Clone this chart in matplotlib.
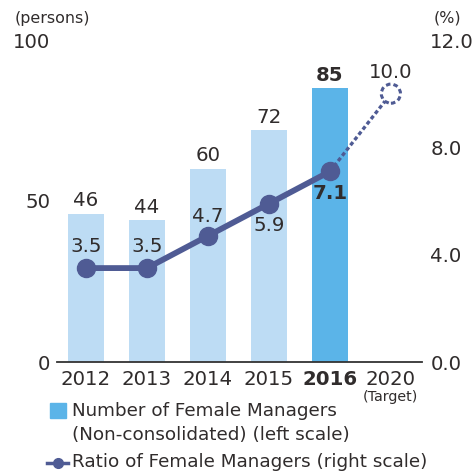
import matplotlib
matplotlib.use("Agg")
import matplotlib.pyplot as plt
from matplotlib.patches import Rectangle
from matplotlib.lines import Line2D

plt.rcParams['font.family'] = ['DejaVu Sans']

years = ["2012", "2013", "2014", "2015", "2016", "2020"]
managers = [46, 44, 60, 72, 85]
ratios = [3.5, 3.5, 4.7, 5.9, 7.1]
target_ratio = 10.0
left_ticks = [0, 50, 100]
right_ticks = [0.0, 4.0, 8.0, 12.0]

TXT = "#302c2c"
LIGHT = "#bddcf4"
DARK = "#5bb4e8"
LINE = "#4f5b94"
FS = 14.2

fig = plt.figure(figsize=(4.74, 4.72), dpi=100)
ax = fig.add_axes([57/474, 1-362/472, 365/474, 322/472])
ax2 = ax.twinx()

x = list(range(len(years)))
colors = [LIGHT]*4 + [DARK]
ax.bar(x[:5], managers, width=0.6, color=colors, zorder=1)
ax.set_ylim(0, 100)
ax.set_xlim(-0.475, 5.51)
ax2.set_ylim(0, 12)

for a in (ax, ax2):
    for s in a.spines.values():
        s.set_visible(False)
ax.spines['bottom'].set_visible(True)
ax.spines['bottom'].set_color("#333333")
ax.spines['bottom'].set_linewidth(1.3)

ax.set_yticks(left_ticks)
ax.set_yticklabels([str(v) for v in left_ticks], fontsize=FS, color=TXT)
ax.tick_params(axis='y', length=0, pad=5)
ax2.set_yticks(right_ticks)
ax2.set_yticklabels([f"{v:.1f}" for v in right_ticks], fontsize=FS, color=TXT)
ax2.tick_params(axis='y', length=0, pad=6)

ax.set_xticks(x)
ax.set_xticklabels(years, fontsize=FS, color=TXT)
ax.tick_params(axis='x', length=0, pad=6)
ax.get_xticklabels()[4].set_fontweight('bold')

# bar labels
for i, v in enumerate(managers):
    ax.annotate(str(v), (x[i], v), xytext=(0, 2.5), textcoords='offset points',
                ha='center', va='bottom', fontsize=FS, color=TXT,
                fontweight='bold' if i == 4 else 'normal')

# line
ax2.plot(x[:5], ratios, color=LINE, lw=4.2, marker='o', markersize=13, zorder=3)
ax2.plot([x[4], x[5]], [ratios[4], target_ratio], color=LINE, lw=2.4,
         linestyle=(0, (1.2, 0.8)), zorder=2)
ax2.scatter([x[5]], [target_ratio], s=190, facecolors='white', edgecolors=LINE,
            linewidths=2.2, linestyles=(0, (1.5, 1.0)), zorder=4)

offsets = [8.5, 8.5, 7.2, -8.6, -9.2]
for i, v in enumerate(ratios):
    dy = offsets[i]
    ax2.annotate(f"{v:.1f}", (x[i], v), xytext=(0, dy), textcoords='offset points',
                 ha='center', va='bottom' if dy > 0 else 'top', fontsize=FS, color=TXT,
                 fontweight='bold' if i == 4 else 'normal')
ax2.annotate(f"{target_ratio:.1f}", (x[5], target_ratio), xytext=(0, 8.2),
             textcoords='offset points', ha='center', va='bottom', fontsize=FS, color=TXT)

# units
fig.text(15/474, 1-18/472, "(persons)", fontsize=11.4, color=TXT, ha='left', va='center')
fig.text(434/474, 1-18/472, "(%)", fontsize=11.4, color=TXT, ha='left', va='center')
ax.annotate("(Target)", (x[5], 0), xytext=(0, -25.5), textcoords='offset points',
            ha='center', va='center', fontsize=10.3, color=TXT, annotation_clip=False)

# legend
fig.patches.append(Rectangle((50/474, 1-418/472), 16/474, 15/472,
                             transform=fig.transFigure, color=DARK))
LFS = 13.2
fig.text(72/474, 1-411/472, "Number of Female Managers", fontsize=LFS, color=TXT,
         ha='left', va='center')
fig.text(72/474, 1-435/472, "(Non-consolidated) (left scale)", fontsize=LFS, color=TXT,
         ha='left', va='center')
fig.lines.append(Line2D([47/474, 68/474], [1-463/472, 1-463/472], transform=fig.transFigure,
                        color=LINE, lw=2.5))
fig.lines.append(Line2D([57.5/474], [1-463/472], transform=fig.transFigure,
                        color=LINE, marker='o', markersize=7))
fig.text(72/474, 1-462/472, "Ratio of Female Managers (right scale)", fontsize=LFS, color=TXT,
         ha='left', va='center')

fig.savefig("out.png", dpi=100)
